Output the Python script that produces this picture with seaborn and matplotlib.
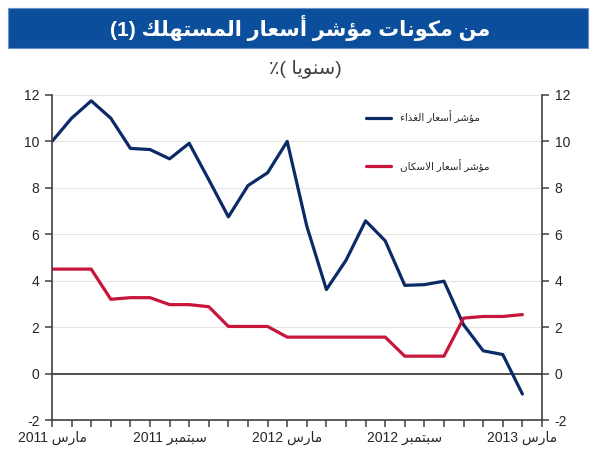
import matplotlib
matplotlib.use("Agg")
import matplotlib.pyplot as plt
import seaborn as sns
import pandas as pd
from matplotlib.patches import Rectangle

# ---------------- data ----------------
months = list(range(25))  # March 2011 .. March 2013, monthly
food_values = [10.0, 11.0, 11.75, 11.0, 9.7, 9.65, 9.25, 9.92, 8.35, 6.75, 8.1, 8.65,
               10.0, 6.35, 3.62, 4.88, 6.58, 5.72, 3.8, 3.83, 3.98, 2.1, 0.98, 0.82, -0.88]
housing_values = [4.5, 4.5, 4.5, 3.2, 3.27, 3.27, 2.97, 2.97, 2.88, 2.03, 2.03, 2.03,
                  1.57, 1.57, 1.57, 1.57, 1.57, 1.57, 0.75, 0.75, 0.75, 2.39, 2.46, 2.46, 2.54]
series_names = ["مؤشر أسعار الغذاء", "مؤشر أسعار الاسكان"]
x_tick_positions = [0, 6, 12, 18, 24]
x_tick_labels = ["مارس 2011", "سبتمبر 2011", "مارس 2012", "سبتمبر 2012", "مارس 2013"]
y_ticks = [-2, 0, 2, 4, 6, 8, 10, 12]
title_text = "من مكونات مؤشر أسعار المستهلك (1)"
subtitle_word = "سنويا"

# ------------- minimal Arabic shaping (presentation forms + visual order) -------------
FORMS = {
    'ء': ('\uFE80', None, None, None),
    'أ': ('\uFE83', '\uFE84', None, None),
    'ؤ': ('\uFE85', '\uFE86', None, None),
    'ا': ('\uFE8D', '\uFE8E', None, None),
    'ب': ('\uFE8F', '\uFE90', '\uFE91', '\uFE92'),
    'ت': ('\uFE95', '\uFE96', '\uFE97', '\uFE98'),
    'ذ': ('\uFEAB', '\uFEAC', None, None),
    'ر': ('\uFEAD', '\uFEAE', None, None),
    'س': ('\uFEB1', '\uFEB2', '\uFEB3', '\uFEB4'),
    'ش': ('\uFEB5', '\uFEB6', '\uFEB7', '\uFEB8'),
    'ع': ('\uFEC9', '\uFECA', '\uFECB', '\uFECC'),
    'غ': ('\uFECD', '\uFECE', '\uFECF', '\uFED0'),
    'ك': ('\uFED9', '\uFEDA', '\uFEDB', '\uFEDC'),
    'ل': ('\uFEDD', '\uFEDE', '\uFEDF', '\uFEE0'),
    'م': ('\uFEE1', '\uFEE2', '\uFEE3', '\uFEE4'),
    'ن': ('\uFEE5', '\uFEE6', '\uFEE7', '\uFEE8'),
    'ه': ('\uFEE9', '\uFEEA', '\uFEEB', '\uFEEC'),
    'و': ('\uFEED', '\uFEEE', None, None),
    'ي': ('\uFEF1', '\uFEF2', '\uFEF3', '\uFEF4'),
    'LA': ('\uFEFB', '\uFEFC', None, None),
}


def shape_word(word):
    if not any(c in FORMS for c in word):
        return word
    toks = []
    i = 0
    while i < len(word):
        if word[i] == 'ل' and i + 1 < len(word) and word[i + 1] == 'ا':
            toks.append('LA')
            i += 2
        else:
            toks.append(word[i])
            i += 1
    out = []
    for k, t in enumerate(toks):
        f = FORMS.get(t)
        if f is None:
            out.append(t)
            continue
        prev = FORMS.get(toks[k - 1]) if k > 0 else None
        nxt = FORMS.get(toks[k + 1]) if k + 1 < len(toks) else None
        jp = prev is not None and prev[2] is not None and f[1] is not None
        jn = nxt is not None and f[2] is not None and nxt[1] is not None
        if jp and jn:
            out.append(f[3])
        elif jp:
            out.append(f[1])
        elif jn:
            out.append(f[2])
        else:
            out.append(f[0])
    return ''.join(reversed(out))


def rtl(text):
    return ' '.join(shape_word(w) for w in reversed(text.split(' ')))


# ---------------- style ----------------
sns.set_style("white")
plt.rcParams['font.family'] = ['Liberation Sans', 'DejaVu Sans']

food_color = '#0C2A66'
housing_color = '#C8153A'

df = pd.DataFrame({
    'month': months + months,
    'value': food_values + housing_values,
    'series': [rtl(series_names[0])] * len(months) + [rtl(series_names[1])] * len(months),
})

fig = plt.figure(figsize=(5.97, 4.5), dpi=100)
ax = fig.add_axes([52 / 597, 1 - 420 / 450, 490 / 597, (420 - 95) / 450])

sns.lineplot(data=df, x='month', y='value', hue='series',
             palette=[food_color, housing_color], linewidth=2.3, ax=ax)

ax.set_xlim(0, 25)
ax.set_ylim(-2, 12)
ax.set_xlabel('')
ax.set_ylabel('')

ax.set_yticks(y_ticks)
ax.set_yticklabels([str(v) for v in y_ticks])
ax.set_xticks(list(range(26)))
lab = [''] * 26
for p, t in zip(x_tick_positions, x_tick_labels):
    lab[p] = rtl(t)
ax.set_xticklabels(lab)

ax.tick_params(axis='y', which='both', left=True, right=True, labelleft=True,
               labelright=True, direction='out', length=5, width=1.1,
               labelsize=10, color='#404040', pad=4)
ax.tick_params(axis='x', bottom=True, direction='out', length=5, width=1.1,
               labelsize=10, color='#404040', pad=3)

ax.yaxis.grid(True, color='#E6E6E6', linewidth=0.8)
ax.set_axisbelow(True)
ax.axhline(0, color='#333333', linewidth=1.2, zorder=1.5)

ax.spines['top'].set_visible(False)
for s in ['left', 'right', 'bottom']:
    ax.spines[s].set_color('#404040')
    ax.spines[s].set_linewidth(1.2)

handles, labels = ax.get_legend_handles_labels()
ax.legend(handles, labels, loc='upper left', bbox_to_anchor=(0.641, 0.952),
          frameon=False, fontsize=7.5, handlelength=2.4, handletextpad=0.85,
          labelspacing=3.4, borderaxespad=0, borderpad=0)

# banner title
fig.patches.append(Rectangle((8 / 597, 1 - 48 / 450), 580 / 597, 40 / 450,
                             transform=fig.transFigure, facecolor='#0B4F9C',
                             edgecolor='#6A8FC8', linewidth=0.8, zorder=0))
fig.text(300 / 597, 1 - 28 / 450, rtl(title_text), color='white', fontsize=15,
         fontweight='bold', ha='center', va='center')
fig.text(305 / 597, 1 - 69 / 450, '٪( ' + shape_word(subtitle_word) + ')',
         color='#404040', fontsize=14, ha='center', va='center')

fig.savefig('out.png', dpi=100)
